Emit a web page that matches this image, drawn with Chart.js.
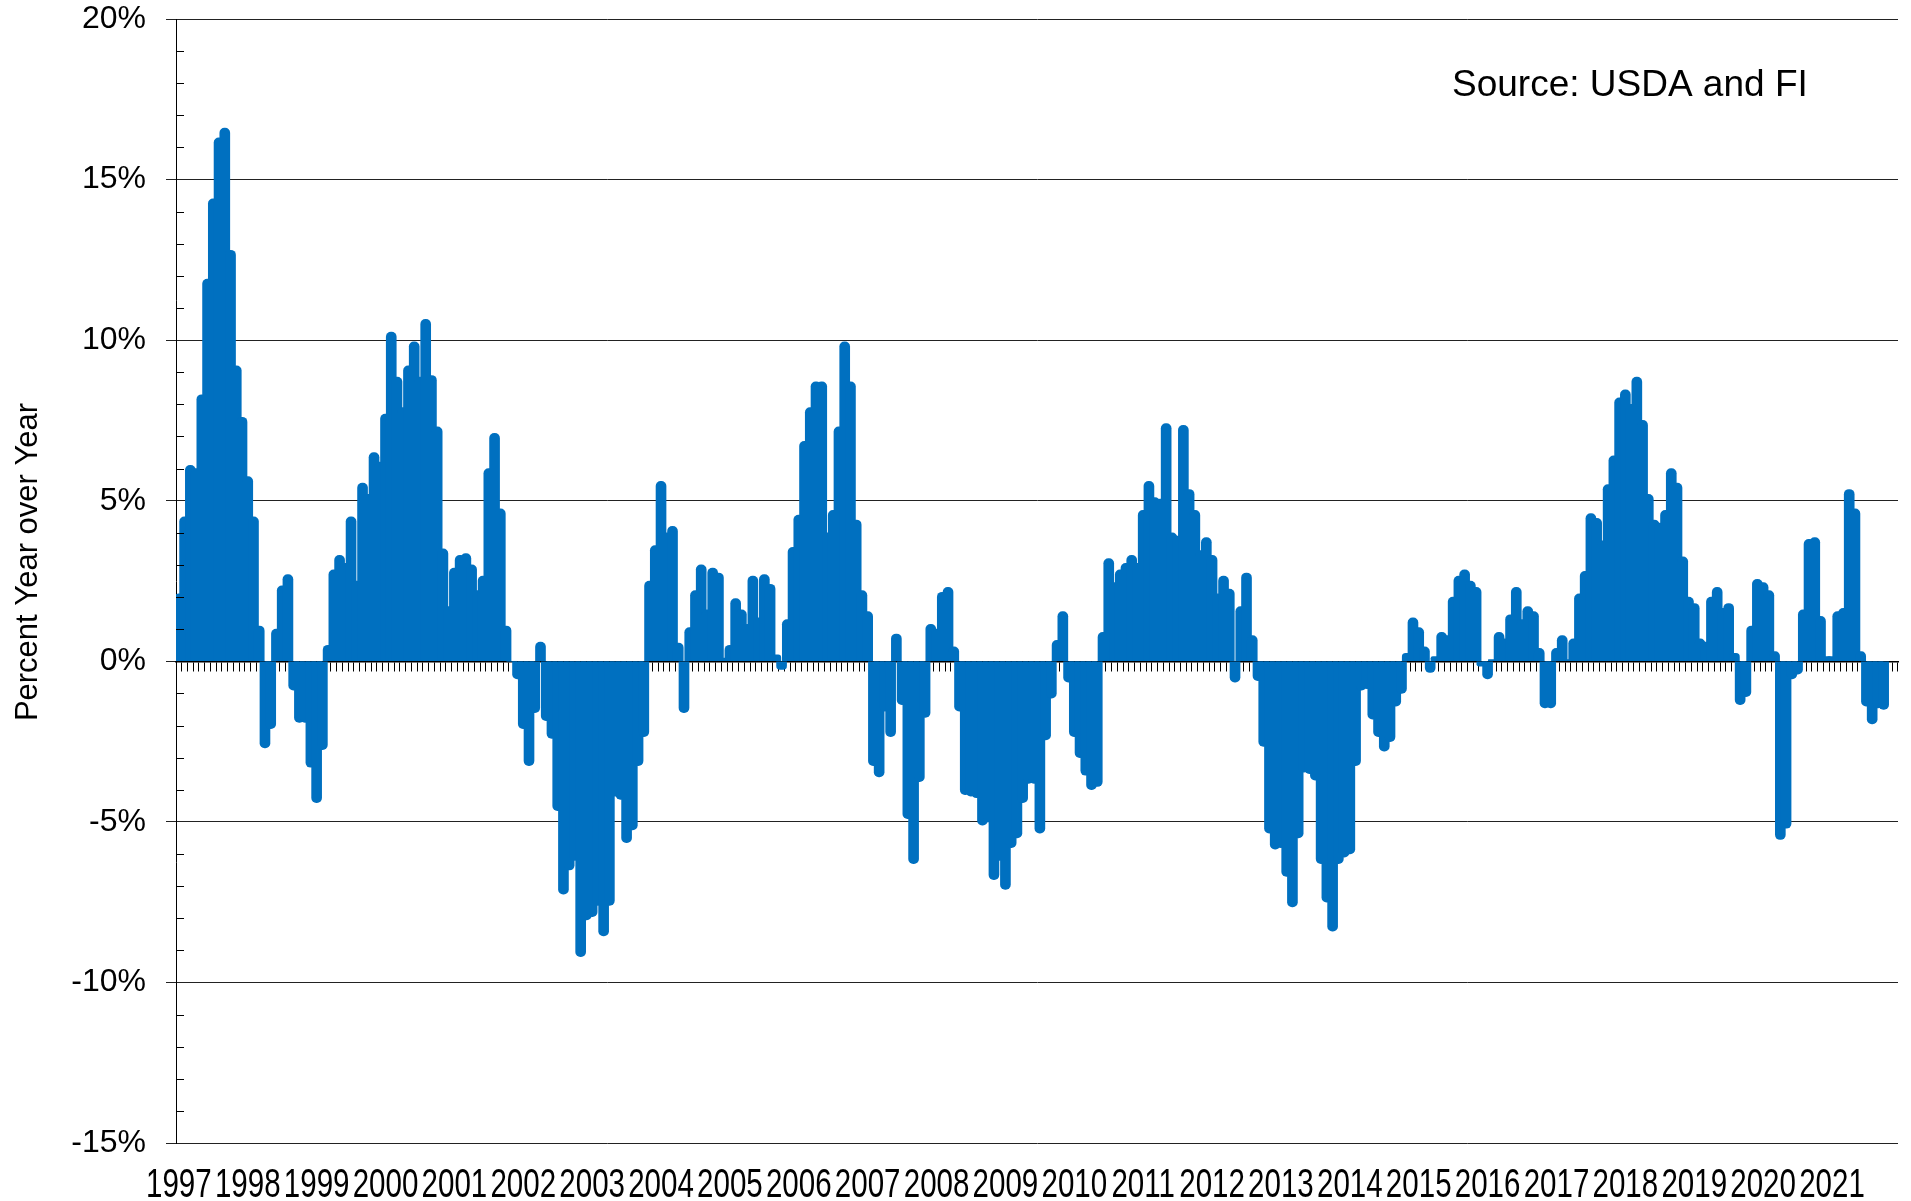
<!DOCTYPE html>
<html>
<head>
<meta charset="utf-8">
<script src="https://cdn.jsdelivr.net/npm/chart.js@4.4.0/dist/chart.umd.min.js"></script>
<style>
  html, body { margin: 0; padding: 0; background: #fff; }
  #wrap { width: 1911px; height: 1201px; }
</style>
</head>
<body>
<div id="wrap"><canvas id="c" width="1911" height="1201"></canvas></div>
<script>
// year tick labels (one per January)
const years = ['1997', '1998', '1999', '2000', '2001', '2002', '2003', '2004', '2005',
  '2006', '2007', '2008', '2009', '2010', '2011', '2012', '2013', '2014', '2015',
  '2016', '2017', '2018', '2019', '2020', '2021'];

// monthly categories
const months = [];
years.forEach(y => {
  for (let m = 1; m <= 12; m++) months.push(y + '-' + String(m).padStart(2, '0'));
});

// percent year over year, Jan 1997 .. Oct 2021
const yoy = [
  2.1, 4.5, 6.1, 6.0, 8.3, 11.9, 14.4, 16.3, 16.6, 12.8, 9.2, 7.6,        // 1997
  5.75, 4.5, 1.1, -2.7, -2.1, 1.0, 2.35, 2.7, -0.9, -1.9, -1.9, -3.3,    // 1998
  -4.4, -2.75, 0.5, 2.85, 3.3, 3.05, 4.5, 2.5, 5.55, 5.2, 6.5, 6.2,      // 1999
  7.7, 10.25, 8.85, 7.9, 9.2, 9.95, 8.85, 10.65, 8.9, 7.3, 3.5, 1.7,     // 2000
  2.9, 3.3, 3.35, 3.0, 2.2, 2.65, 6.0, 7.1, 4.75, 1.1, 0, -0.55,         // 2001
  -2.1, -3.25, -1.6, 0.6, -1.85, -2.4, -4.65, -7.25, -6.5, -6.2, -9.2, -8.05, // 2002
  -7.95, -7.6, -8.55, -7.6, -4.2, -4.3, -5.65, -5.25, -3.25, -2.35, 2.5, 3.6, // 2003
  5.6, 4.0, 4.2, 0.57, -1.6, 1.05, 2.2, 3.0, 1.6, 2.9, 2.75, 0.1,        // 2004
  0.5, 1.95, 1.6, 1.15, 2.65, 1.35, 2.7, 2.4, 0.2, -0.25, 1.3, 3.55,     // 2005
  4.55, 6.85, 7.9, 8.7, 8.7, 4.0, 4.7, 7.3, 9.95, 8.7, 4.4, 2.2,         // 2006
  1.55, -3.25, -3.6, -1.55, -2.35, 0.85, -1.35, -4.9, -6.3, -3.75, -1.75, 1.15, // 2007
  1.0, 2.15, 2.3, 0.45, -1.55, -4.15, -4.2, -4.25, -5.1, -5.0, -6.8, -6.2,    // 2008
  -7.1, -5.8, -5.5, -4.4, -3.8, -3.8, -5.35, -2.45, -1.15, 0.65, 1.55, -0.65, // 2009
  -2.35, -3.0, -3.55, -4.0, -3.9, 0.9, 3.2, 2.45, 2.85, 3.05, 3.3, 3.05, // 2010
  4.7, 5.6, 5.1, 5.05, 7.4, 4.0, 3.9, 7.35, 5.35, 4.7, 3.45, 3.85,       // 2011
  3.3, 2.1, 2.65, 2.25, -0.65, 1.7, 2.75, 0.8, -0.6, -2.65, -5.35, -5.85, // 2012
  -5.8, -6.7, -7.65, -5.5, -3.45, -3.5, -3.7, -6.3, -7.5, -8.4, -6.3, -6.1, // 2013
  -6.0, -3.25, -0.9, -0.85, -1.8, -2.35, -2.8, -2.5, -1.4, -1.0, 0.25, 1.35, // 2014
  1.05, 0.45, -0.35, 0.15, 0.9, 0.8, 2.0, 2.65, 2.85, 2.5, 2.3, -0.15,   // 2015
  -0.55, 0.05, 0.9, 0.7, 1.45, 2.3, 1.3, 1.7, 1.55, 0.4, -1.45, -1.45,   // 2016
  0.4, 0.8, 0.05, 0.7, 2.1, 2.8, 4.6, 4.45, 3.75, 5.5, 6.4, 8.2,         // 2017
  8.45, 8.0, 8.85, 7.5, 5.2, 4.4, 4.3, 4.7, 6.0, 5.55, 3.25, 2.0,        // 2018
  1.8, 0.7, 0.6, 2.0, 2.3, 1.65, 1.8, 0.25, -1.35, -1.1, 1.1, 2.55,      // 2019
  2.45, 2.2, 0.3, -5.55, -5.2, -0.55, -0.4, 1.6, 3.8, 3.85, 1.4, 0.15,   // 2020
  0.15, 1.55, 1.65, 5.35, 4.75, 0.3, -1.4, -1.95, -1.45, -1.5, null, null // 2021
];

const yTicks = [-15, -10, -5, 0, 5, 10, 15, 20];

const FONT = '"Liberation Sans", Arial, sans-serif';

// 軸タイトル・出典・副目盛り・年ラベルを描くプラグイン
const decor = {
  id: 'decor',
  afterDraw(chart) {
    const ctx = chart.ctx;
    const y = chart.scales.y;
    const x = chart.scales.x;
    const left = chart.chartArea.left;
    ctx.save();
    // minor ticks every 1%
    ctx.strokeStyle = '#000';
    ctx.lineWidth = 1;
    ctx.beginPath();
    for (let v = yTicks[0]; v <= yTicks[yTicks.length - 1]; v++) {
      if (v % 5 === 0) continue;
      const py = Math.round(y.getPixelForValue(v)) + 0.5;
      ctx.moveTo(left, py);
      ctx.lineTo(left + 8, py);
    }
    ctx.stroke();

    ctx.fillStyle = '#000';

    // year labels, narrow like the original
    ctx.font = '41px ' + FONT;
    ctx.textAlign = 'center';
    ctx.textBaseline = 'alphabetic';
    years.forEach((yr, k) => {
      const px = x.getPixelForValue(k * 12);
      ctx.save();
      ctx.translate(px, 1197);
      ctx.scale(0.72, 1);
      ctx.fillText(yr, 0, 0);
      ctx.restore();
    });

    ctx.font = '37px ' + FONT;
    ctx.textBaseline = 'middle';
    ctx.textAlign = 'left';
    ctx.fillText('Source: USDA and FI', 1452, 86);

    ctx.translate(28, 562);
    ctx.rotate(-Math.PI / 2);
    ctx.textAlign = 'center';
    ctx.font = '31px ' + FONT;
    ctx.fillText('Percent Year over Year', 0, 0);
    ctx.restore();
  }
};

const ctx = document.getElementById('c').getContext('2d');
new Chart(ctx, {
  type: 'bar',
  data: {
    labels: months,
    datasets: [{
      data: yoy,
      backgroundColor: '#0070C0',
      barThickness: 10,
      borderRadius: 5,
      borderSkipped: 'start'
    }]
  },
  options: {
    responsive: false,
    animation: false,
    devicePixelRatio: 1,
    layout: { padding: { top: 19, right: 13, left: 0, bottom: 0 } },
    plugins: { legend: { display: false }, tooltip: { enabled: false } },
    scales: {
      x: {
        type: 'category',
        offset: true,
        grid: { display: false, drawTicks: false },
        border: { display: false },
        ticks: { display: false },
        afterFit: s => { s.height = 58; s.paddingLeft = 0; s.paddingRight = 0; }
      },
      x2: {
        type: 'category',
        position: { y: 0 },
        offset: true,
        grid: { offset: true, drawOnChartArea: false, tickLength: 9, color: '#000', lineWidth: 1 },
        border: { display: true, color: '#000', width: 1.5 },
        ticks: { display: false }
      },
      y: {
        min: -15, max: 20,
        afterBuildTicks: s => { s.ticks = yTicks.map(v => ({ value: v })); },
        ticks: {
          padding: 20, color: '#000', font: { size: 32, family: FONT },
          callback: v => v + '%'
        },
        grid: { color: '#222', lineWidth: 1, tickLength: 10, tickColor: '#222' },
        border: { color: '#000', width: 1 },
        afterFit: s => { s.width = 176; s.paddingTop = 0; s.paddingBottom = 0; }
      }
    }
  },
  plugins: [decor]
});
</script>
</body>
</html>
